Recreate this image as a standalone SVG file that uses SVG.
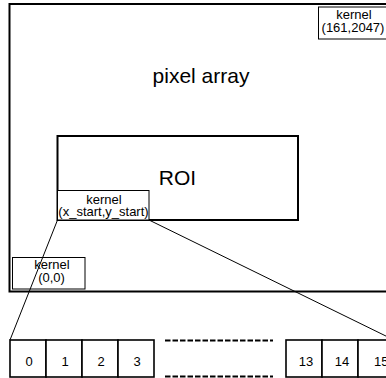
<svg xmlns="http://www.w3.org/2000/svg" width="386" height="378" viewBox="0 0 386 378">
<style>
text{font-family:"Liberation Sans",Arial,sans-serif;fill:#000;text-anchor:middle}
.big{font-size:21px}
.sm{font-size:13px}
.thick{fill:#fff;stroke:#000;stroke-width:2}
.thin{fill:#fff;stroke:#000;stroke-width:1}
.cell{fill:#fff;stroke:#000;stroke-width:1.6}
.dash{stroke:#000;stroke-width:2;stroke-dasharray:5.5 2;fill:none}
.conn{stroke:#000;stroke-width:1;fill:none}
</style>
<rect width="386" height="378" fill="#fff"/>
<g id="pixel-array">
<rect class="thick" x="9.5" y="4" width="385" height="287.5"/>
<text class="big" x="201" y="83">pixel array</text>
</g>
<g id="kernel-161-2047">
<rect class="thin" x="318.5" y="7" width="75" height="32"/>
<text class="sm" x="354" y="18.5">kernel</text>
<text class="sm" x="353" y="31.5">(161,2047)</text>
</g>
<g id="roi">
<rect class="thick" x="57.5" y="136" width="240.5" height="84"/>
<text class="big" x="177.5" y="185">ROI</text>
</g>
<g id="kernel-start">
<rect class="thin" x="57.5" y="190.5" width="91.5" height="29.5"/>
<text class="sm" x="104" y="203.5">kernel</text>
<text class="sm" x="103.5" y="216">(x_start,y_start)</text>
</g>
<g id="kernel-0-0">
<rect class="thin" x="12.5" y="257.5" width="72.5" height="31.5"/>
<text class="sm" x="52" y="269">kernel</text>
<text class="sm" x="51.5" y="282">(0,0)</text>
</g>
<g id="cells-left">
<rect class="cell" x="10" y="340" width="36" height="37"/>
<rect class="cell" x="46" y="340" width="36" height="37"/>
<rect class="cell" x="82" y="340" width="36" height="37"/>
<rect class="cell" x="118" y="340" width="36" height="37"/>
<text class="sm" x="29" y="366">0</text>
<text class="sm" x="65" y="366">1</text>
<text class="sm" x="101" y="366">2</text>
<text class="sm" x="137" y="366">3</text>
</g>
<g id="cells-right">
<rect class="cell" x="286" y="340" width="36" height="37"/>
<rect class="cell" x="322" y="340" width="36" height="37"/>
<rect class="cell" x="358" y="340" width="36" height="37"/>
<text class="sm" x="306" y="366">13</text>
<text class="sm" x="342" y="366">14</text>
<text class="sm" x="374" y="366" style="text-anchor:start">15</text>
</g>
<g id="connectors">
<line class="dash" x1="165" y1="340.5" x2="273" y2="340.5"/>
<line class="dash" x1="165" y1="376.5" x2="273" y2="376.5"/>
<line class="conn" x1="57.5" y1="220" x2="10" y2="340"/>
<line class="conn" x1="149" y1="220" x2="394" y2="340"/>
</g>
</svg>
